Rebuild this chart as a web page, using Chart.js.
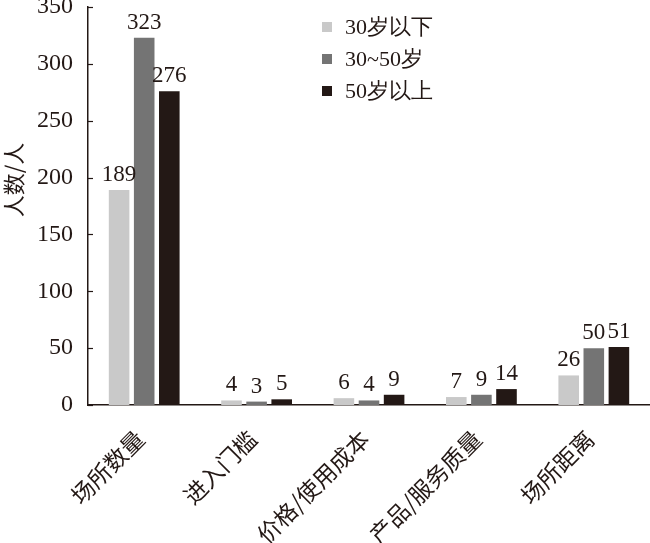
<!DOCTYPE html>
<html>
<head>
<meta charset="utf-8">
<script src="https://cdn.jsdelivr.net/npm/chart.js@4"></script>
<style>
  html, body { margin: 0; padding: 0; background: #fff; }
  #wrap { width: 650px; height: 543px; position: relative; }
</style>
</head>
<body>
<div id="wrap"><canvas id="chart"></canvas></div>
<script>
  const categories = ['场所数量', '进入门槛', '价格/使用成本', '产品/服务质量', '场所距离'];
  const seriesNames = ['30岁以下', '30~50岁', '50岁以上'];
  const under30 = [189, 4, 6, 7, 26];
  const age30to50 = [323, 3, 4, 9, 50];
  const over50 = [276, 5, 9, 14, 51];
  const yTicks = [0, 50, 100, 150, 200, 250, 300, 350];
  const yTitle = '人数/人';

  const ink = '#231815';
  const barColors = ['#c9c9c9', '#747474', '#231815'];
  const serif = '"Liberation Serif", "Times New Roman", serif';
  const cjk = '"Noto Sans CJK SC", "Noto Sans", sans-serif';

  // numbers above bars
  const valueLabels = {
    id: 'valueLabels',
    afterDatasetsDraw(chart) {
      const { ctx } = chart;
      ctx.save();
      ctx.font = '23px ' + serif;
      ctx.fillStyle = ink;
      ctx.textAlign = 'center';
      ctx.textBaseline = 'alphabetic';
      chart.data.datasets.forEach((ds, i) => {
        chart.getDatasetMeta(i).data.forEach((bar, j) => {
          ctx.fillText(String(ds.data[j]), bar.x, bar.y - 9);
        });
      });
      ctx.restore();
    },
  };

  // inward tick marks, legend and axis title
  const decorations = {
    id: 'decorations',
    afterDraw(chart) {
      const { ctx, scales } = chart;
      const y = scales.y;
      ctx.save();
      ctx.strokeStyle = ink;
      ctx.lineWidth = 1.2;
      yTicks.forEach((v) => {
        const py = Math.round(y.getPixelForValue(v)) + 0.5;
        ctx.beginPath();
        ctx.moveTo(y.right, py);
        ctx.lineTo(y.right + 5, py);
        ctx.stroke();
      });

      // legend
      ctx.font = '22px ' + serif;
      ctx.textBaseline = 'middle';
      ctx.textAlign = 'left';
      const rows = [27, 59, 91];
      chart.data.datasets.forEach((ds, i) => {
        ctx.fillStyle = ds.backgroundColor;
        ctx.fillRect(322, rows[i] - 5, 10, 10);
        ctx.fillStyle = ink;
        ctx.fillText(ds.label, 345, rows[i] + 1);
      });

      // y axis title
      ctx.translate(14, 180);
      ctx.rotate(-Math.PI / 2);
      ctx.font = '22px ' + cjk;
      ctx.textAlign = 'center';
      ctx.fillText(yTitle, 0, 0);
      ctx.restore();
    },
  };

  const series = [under30, age30to50, over50];

  new Chart(document.getElementById('chart'), {
    type: 'bar',
    data: {
      labels: categories,
      datasets: seriesNames.map((name, i) => ({
        label: name,
        data: series[i],
        backgroundColor: barColors[i],
        categoryPercentage: 0.67,
        barPercentage: 0.82,
      })),
    },
    options: {
      responsive: true,
      maintainAspectRatio: false,
      animation: false,
      layout: { padding: { top: 7, right: 0, bottom: 0, left: 0 } },
      plugins: {
        legend: { display: false },
        tooltip: { enabled: false },
      },
      scales: {
        x: {
          afterFit: (scale) => {
            scale.height = 138;
            scale.paddingLeft = 0;
            scale.paddingRight = 0;
          },
          grid: { display: false, drawTicks: false },
          border: { display: true, color: ink, width: 1.5 },
          ticks: {
            color: ink,
            font: { family: cjk, size: 23 },
            maxRotation: 45,
            minRotation: 45,
            padding: 20,
            labelOffset: -4,
            autoSkip: false,
          },
        },
        y: {
          min: 0,
          max: 350,
          afterFit: (scale) => {
            scale.width = 88;
            scale.paddingTop = 0;
            scale.paddingBottom = 0;
          },
          afterBuildTicks: (scale) => { scale.ticks = yTicks.map((v) => ({ value: v })); },
          grid: { display: false, drawTicks: false },
          border: { display: true, color: ink, width: 1.5 },
          ticks: {
            color: ink,
            font: { family: serif, size: 24 },
            padding: 15,
          },
        },
      },
    },
    plugins: [valueLabels, decorations],
  });
</script>
</body>
</html>
